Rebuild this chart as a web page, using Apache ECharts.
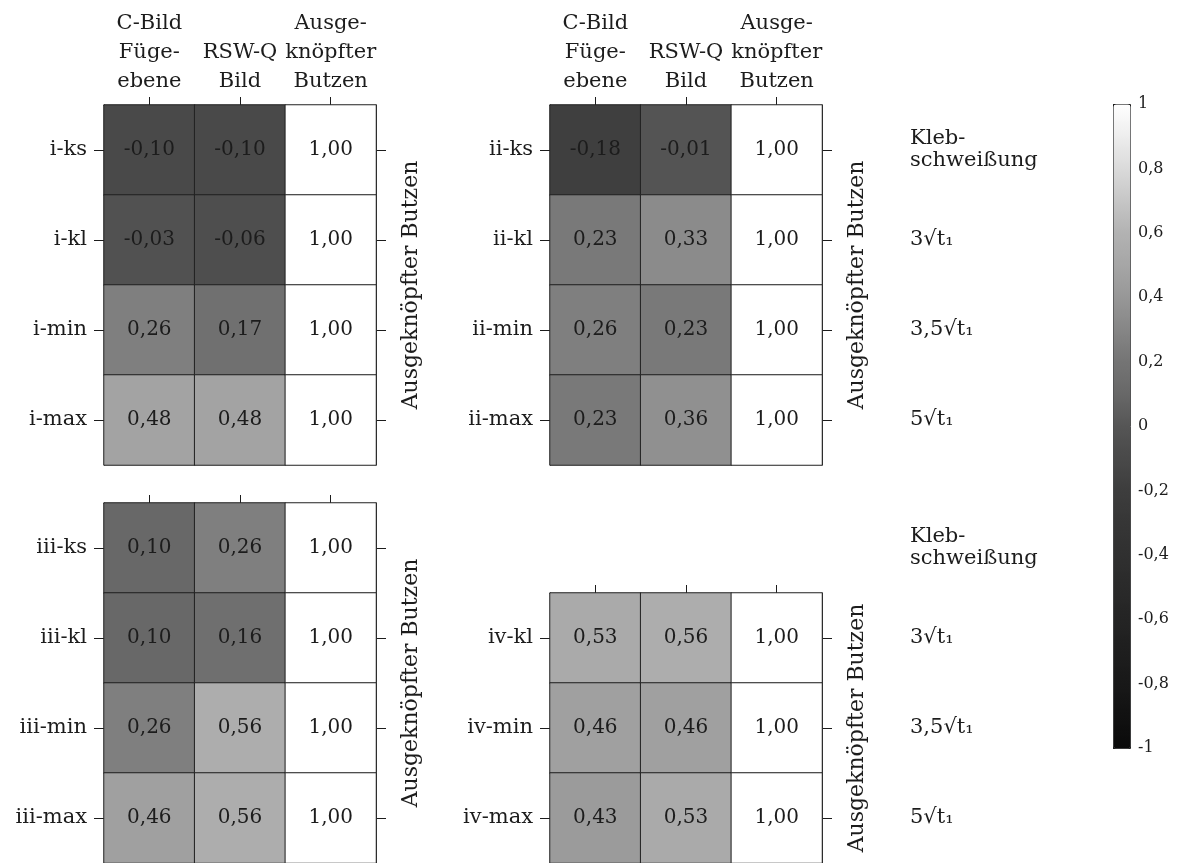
<!DOCTYPE html>
<html>
<head>
<meta charset="utf-8">
<script src="https://cdn.jsdelivr.net/npm/echarts@6/dist/echarts.min.js"></script>
<style>
  html, body { margin: 0; padding: 0; background: #fff; }
  #chart { width: 1184px; height: 863px; }
</style>
</head>
<body>
<div id="chart"></div>
<script>
// Column headers (features compared with the pushed-out slug)
const columns = ['C-Bild\nFüge-\nebene', 'RSW-Q\nBild', 'Ausge-\nknöpfter\nButzen'];

// Row categories of the four panels
const rowsI   = ['i-ks', 'i-kl', 'i-min', 'i-max'];
const rowsII  = ['ii-ks', 'ii-kl', 'ii-min', 'ii-max'];
const rowsIII = ['iii-ks', 'iii-kl', 'iii-min', 'iii-max'];
const rowsIV  = ['iv-kl', 'iv-min', 'iv-max'];

// Correlation values per column (C-Bild, RSW-Q, Butzen), listed by row
const cBildI   = [-0.10, -0.03, 0.26, 0.48];
const rswqI    = [-0.10, -0.06, 0.17, 0.48];
const butzenI  = [1.00, 1.00, 1.00, 1.00];

const cBildII  = [-0.18, 0.23, 0.26, 0.23];
const rswqII   = [-0.01, 0.33, 0.23, 0.36];
const butzenII = [1.00, 1.00, 1.00, 1.00];

const cBildIII  = [0.10, 0.10, 0.26, 0.46];
const rswqIII   = [0.26, 0.16, 0.56, 0.56];
const butzenIII = [1.00, 1.00, 1.00, 1.00];

const cBildIV  = [0.53, 0.46, 0.43];
const rswqIV   = [0.56, 0.46, 0.53];
const butzenIV = [1.00, 1.00, 1.00];

// Welding parameter labels on the right-hand side
const paramLabels = ['Kleb-\nschweißung', '3√t₁', '3,5√t₁', '5√t₁'];

// Colour bar range
const scaleMin = -1;
const scaleMax = 1;
const scaleStep = 0.2;

// Grey levels of the colour map, evenly spaced from -1 to 1 (step 0.1)
const greyLevels = [10, 17, 24, 30, 36, 42, 48, 54, 61, 73, 85, 104, 116, 134, 151, 166, 178, 198, 218, 237, 255];
const greyColors = greyLevels.map(g => `rgb(${g},${g},${g})`);

const FONT = 'DejaVu Serif';
const INK = '#1c1c1c';

function cells(colValues) {
  const out = [];
  colValues.forEach((vals, ci) => vals.forEach((v, ri) => out.push([ci, ri, v])));
  return out;
}
const fmt2 = v => v.toFixed(2).replace('.', ',');

const panels = [
  { rows: rowsI,   data: cells([cBildI, rswqI, butzenI]),       left: 104, top: 105, h: 360, header: true },
  { rows: rowsII,  data: cells([cBildII, rswqII, butzenII]),    left: 550, top: 105, h: 360, header: true },
  { rows: rowsIII, data: cells([cBildIII, rswqIII, butzenIII]), left: 104, top: 503, h: 360, header: false },
  { rows: rowsIV,  data: cells([cBildIV, rswqIV, butzenIV]),    left: 550, top: 593, h: 270, header: false }
];

const grid = [], xAxis = [], yAxis = [], series = [];

panels.forEach((p, i) => {
  grid.push({ left: p.left, top: p.top, width: 272, height: p.h });
  xAxis.push({
    type: 'category', gridIndex: i, position: 'top', data: columns,
    axisLine: { show: true, lineStyle: { color: INK, width: 1 } },
    axisTick: { show: true, alignWithLabel: true, length: 8, lineStyle: { color: INK } },
    axisLabel: {
      show: p.header, interval: 0, margin: 9, color: INK,
      fontFamily: FONT, fontSize: 21, lineHeight: 29, align: 'center'
    },
    splitLine: { show: false }
  });
  // left axis: row names
  yAxis.push({
    type: 'category', gridIndex: i, position: 'left', inverse: true, data: p.rows,
    axisLine: { show: true, lineStyle: { color: INK } },
    axisTick: { show: true, alignWithLabel: true, length: 10, lineStyle: { color: INK } },
    axisLabel: { margin: 17, color: INK, fontFamily: FONT, fontSize: 21 }
  });
  // right axis: ticks and the rotated title
  yAxis.push({
    type: 'category', gridIndex: i, position: 'right', inverse: true, data: p.rows,
    name: 'Ausgeknöpfter Butzen', nameLocation: 'middle', nameRotate: 90, nameGap: 24,
    nameTextStyle: { color: INK, fontFamily: FONT, fontSize: 22 },
    axisLine: { show: true, lineStyle: { color: INK } },
    axisTick: { show: true, alignWithLabel: true, length: 10, lineStyle: { color: INK } },
    axisLabel: { show: false }
  });
  series.push({
    type: 'heatmap', xAxisIndex: i, yAxisIndex: i * 2, data: p.data,
    label: {
      show: true, color: INK, fontFamily: FONT, fontSize: 20,
      formatter: prm => fmt2(prm.value[2])
    },
    itemStyle: { borderColor: '#202020', borderWidth: 1 },
    emphasis: { disabled: true }
  });
});

// parameter labels to the right of the right-hand panels (rows of the left panels)
[0, 2].forEach(gi => {
  yAxis.push({
    type: 'category', gridIndex: gi, position: 'right', offset: 526, inverse: true,
    data: paramLabels,
    axisLine: { show: false }, axisTick: { show: false },
    axisLabel: { margin: 8, align: 'left', color: INK, fontFamily: FONT, fontSize: 21, lineHeight: 22 }
  });
});

// colour bar scale
grid.push({ left: 1113, top: 104, width: 17, height: 644 });
xAxis.push({ type: 'value', gridIndex: 4, show: false });
yAxis.push({
  type: 'value', gridIndex: 4, position: 'right', min: scaleMin, max: scaleMax, interval: scaleStep,
  axisLine: { show: false },
  axisTick: { show: true, inside: false, length: 4, lineStyle: { color: INK } },
  splitLine: { show: false },
  axisLabel: {
    margin: 8, color: INK, fontFamily: FONT, fontSize: 16,
    formatter: v => String(Math.round(v * 10) / 10).replace('.', ',')
  }
});

const option = {
  backgroundColor: '#fff',
  animation: false,
  textStyle: { fontFamily: FONT },
  grid, xAxis, yAxis, series,
  visualMap: {
    type: 'continuous', min: scaleMin, max: scaleMax, seriesIndex: [0, 1, 2, 3],
    calculable: false, orient: 'vertical', left: 1113, top: 104,
    itemWidth: 17, itemHeight: 644, padding: 0,
    borderColor: '#202020', borderWidth: 1,
    inRange: { color: greyColors },
    hoverLink: false
  }
};

const chart = echarts.init(document.getElementById('chart'), null, { renderer: 'canvas' });
chart.setOption(option);
</script>
</body>
</html>
